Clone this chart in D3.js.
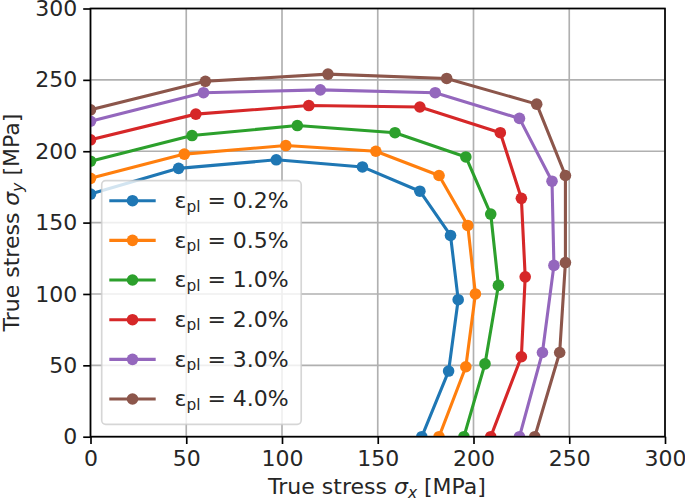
<!DOCTYPE html>
<html>
<head>
<meta charset="utf-8">
<script src="https://cdn.jsdelivr.net/npm/d3@7"></script>
<style>
  html, body { margin: 0; padding: 0; background: #fff; }
  svg { display: block; font-family: "DejaVu Sans", sans-serif; }
</style>
</head>
<body>
<svg id="chart" width="685" height="498"></svg>
<script>
// ---- data ----
const labels = ["0.2%", "0.5%", "1.0%", "2.0%", "3.0%", "4.0%"];
const colors = ["#1f77b4", "#ff7f0e", "#2ca02c", "#d62728", "#9467bd", "#8c564b"];
const xTicks = [0, 50, 100, 150, 200, 250, 300];
const yTicks = [0, 50, 100, 150, 200, 250, 300];

const blueX   = [0, 46, 97, 142, 172, 188, 192, 187, 173];
const blueY   = [170, 188, 194, 189, 172, 141, 96, 46, 0];
const orangeX = [0, 49, 102, 149, 182, 197, 201, 196, 182];
const orangeY = [181, 198, 204, 200, 183, 148, 100, 49, 0];
const greenX  = [0, 53, 108, 159, 196, 209, 213, 206, 195];
const greenY  = [193, 211, 218, 213, 196, 156, 106, 51, 0];
const redX    = [0, 55, 114, 172, 214, 225, 227, 225, 209];
const redY    = [208, 226, 232, 231, 213, 167, 112, 56, 0];
const purpleX = [0, 59, 120, 180, 224, 241, 242, 236, 224];
const purpleY = [221, 241, 243, 241, 223, 179, 120, 59, 0];
const brownX  = [0, 60, 124, 186, 233, 248, 248, 245, 232];
const brownY  = [229, 249, 254, 251, 233, 183, 122, 59, 0];

const seriesX = [blueX, orangeX, greenX, redX, purpleX, brownX];
const seriesY = [blueY, orangeY, greenY, redY, purpleY, brownY];

// ---- layout ----
const L = 90.5, R = 665, T = 8.5, B = 436.7;
const FS = 22;
const svg = d3.select("#chart");

const x = d3.scaleLinear().domain([0, 300]).range([L, R]);
const y = d3.scaleLinear().domain([0, 300]).range([B, T]);

// clip
svg.append("defs").append("clipPath").attr("id", "clip")
  .append("rect").attr("x", L).attr("y", T).attr("width", R - L).attr("height", B - T);

// grid
const grid = svg.append("g");
grid.selectAll(".gx").data(xTicks).enter().append("line")
  .attr("x1", d => x(d)).attr("x2", d => x(d)).attr("y1", T).attr("y2", B)
  .attr("stroke", "#b0b0b0").attr("stroke-width", 1.67);
grid.selectAll(".gy").data(yTicks).enter().append("line")
  .attr("y1", d => y(d)).attr("y2", d => y(d)).attr("x1", L).attr("x2", R)
  .attr("stroke", "#b0b0b0").attr("stroke-width", 1.67);

// series
const plot = svg.append("g").attr("clip-path", "url(#clip)");
const line = d3.line().x(d => x(d[0])).y(d => y(d[1]));
seriesX.forEach((xs, i) => {
  const pts = xs.map((v, j) => [v, seriesY[i][j]]);
  const g = plot.append("g");
  g.append("path").datum(pts).attr("d", line)
    .attr("fill", "none").attr("stroke", colors[i]).attr("stroke-width", 3.1)
    .attr("stroke-linejoin", "round").attr("stroke-linecap", "square");
  g.selectAll("circle").data(pts).enter().append("circle")
    .attr("cx", d => x(d[0])).attr("cy", d => y(d[1])).attr("r", 5.8)
    .attr("fill", colors[i]);
});

// axes
const xAxis = d3.axisBottom(x).tickValues(xTicks).tickSize(7.3).tickPadding(6.5).tickFormat(d3.format("d"));
const yAxis = d3.axisLeft(y).tickValues(yTicks).tickSize(7.3).tickPadding(6).tickFormat(d3.format("d"));
const gx = svg.append("g").attr("transform", `translate(0,${B})`).call(xAxis);
const gy = svg.append("g").attr("transform", `translate(${L},0)`).call(yAxis);
[gx, gy].forEach(g => {
  g.select(".domain").remove();
  g.selectAll(".tick line").attr("stroke", "#000").attr("stroke-width", 1.67);
  g.selectAll(".tick text").attr("fill", "#262626").style("font-size", FS + "px")
    .style("font-family", "'DejaVu Sans', sans-serif");
});

// spines
svg.append("rect").attr("x", L).attr("y", T).attr("width", R - L).attr("height", B - T)
  .attr("fill", "none").attr("stroke", "#000").attr("stroke-width", 1.67);

// axis labels
const xl = svg.append("text").attr("x", 377).attr("y", 493.5)
  .attr("text-anchor", "middle").style("font-size", FS + "px").attr("fill", "#262626");
xl.append("tspan").text("True stress ");
xl.append("tspan").text("σ").style("font-style", "italic");
xl.append("tspan").text("x").style("font-style", "italic").style("font-size", (FS * 0.7) + "px").attr("dy", 4);
xl.append("tspan").text(" [MPa]").attr("dy", -4);

const yl = svg.append("text").attr("transform", `translate(19,${(T + B) / 2}) rotate(-90)`)
  .attr("text-anchor", "middle").style("font-size", FS + "px").attr("fill", "#262626");
yl.append("tspan").text("True stress ");
yl.append("tspan").text("σ").style("font-style", "italic");
yl.append("tspan").text("y").style("font-style", "italic").style("font-size", (FS * 0.7) + "px").attr("dy", 4);
yl.append("tspan").text(" [MPa]").attr("dy", -4);

// legend
const lg = svg.append("g");
lg.append("rect").attr("x", 101.7).attr("y", 180.7).attr("width", 199.5).attr("height", 243.6)
  .attr("rx", 4).attr("fill", "#fff").attr("fill-opacity", 0.8)
  .attr("stroke", "#cccccc").attr("stroke-opacity", 0.8).attr("stroke-width", 1.67);
labels.forEach((lab, i) => {
  const ly = 200.7 + i * 39.66;
  lg.append("line").attr("x1", 109.3).attr("x2", 155.7).attr("y1", ly).attr("y2", ly)
    .attr("stroke", colors[i]).attr("stroke-width", 3.1);
  lg.append("circle").attr("cx", 132.5).attr("cy", ly).attr("r", 5.8).attr("fill", colors[i]);
  const t = lg.append("text").attr("x", 174.5).attr("y", ly + 7.3)
    .style("font-size", FS + "px").attr("fill", "#262626");
  t.append("tspan").text("ε");
  t.append("tspan").text("pl").style("font-size", (FS * 0.7) + "px").attr("dy", 3.5);
  t.append("tspan").text(" = " + lab).attr("dy", -3.5);
});
</script>
</body>
</html>
